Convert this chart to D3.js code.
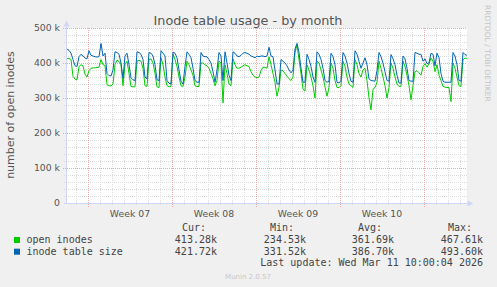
<!DOCTYPE html>
<html>
<head>
<meta charset="utf-8">
<script src="https://cdn.jsdelivr.net/npm/d3@7/dist/d3.min.js"></script>
<style>
  html, body { margin: 0; padding: 0; background: #f0f0f0; }
  svg { display: block; }
  text { font-family: "DejaVu Sans", sans-serif; fill: #555; }
  .mono { font-family: "DejaVu Sans Mono", monospace; font-size: 10px; fill: #444; }
</style>
</head>
<body>
<svg id="chart"></svg>
<script>
// values in thousands, one sample every 4 hours from Feb 6 06:00 to Mar 11 14:00
const openInodes = [
  413, 413, 410, 362, 354, 352, 390, 395, 392, 368, 360,
  378, 385, 386, 386, 387, 388,
  410, 395, 393, 338, 335, 335,
  340, 395, 408, 405, 395, 335,
  395, 405, 370, 333, 332, 332,
  405, 408, 405, 385, 335, 333,
  410, 412, 400, 370, 332, 330,
  415, 395, 360, 335, 332, 333,
  425, 410, 390, 360, 335, 333,
  360, 405, 395, 380, 365, 335,
  333, 333, 400, 400, 395, 392,
  385, 370, 355, 335, 350, 405,
  400, 286, 395, 370, 340, 335,
  412, 395, 385, 385, 388, 392,
  395, 392, 390, 375, 365, 360,
  358, 360, 378, 388, 388, 385,
  418, 395, 370, 345, 305, 330,
  380, 378, 370, 362, 355, 350,
  360, 430, 452, 410, 370, 325,
  320, 395, 380, 360, 335, 300,
  405, 400, 380, 360, 332, 305,
  330, 400, 385, 350, 330, 330,
  335, 405, 390, 360, 340, 335,
  330, 410, 395, 370, 360, 380,
  385, 350, 300, 266, 325, 330,
  345, 405, 385, 360, 335, 300,
  330, 400, 385, 360, 340, 333,
  333, 405, 390, 365, 335, 295,
  335, 375, 378, 372, 365, 390,
  398, 388, 398, 414, 405, 375,
  395, 365, 350, 333, 331, 330,
  330, 290, 400, 385, 360, 335,
  333, 410, 414, 413
];
const tableSize = [
  440, 436, 428, 410, 392, 390, 418, 425, 420, 414, 412,
  435, 422, 420, 418, 417, 418,
  456, 420, 428, 370, 364, 363,
  380, 432, 430, 425, 400, 356,
  420, 428, 395, 358, 352, 350,
  432, 430, 425, 410, 360, 355,
  430, 428, 420, 395, 352, 350,
  435, 428, 420, 350, 342, 340,
  431, 428, 415, 380, 348, 340,
  390, 432, 425, 415, 385, 350,
  345, 345, 430, 420, 418, 418,
  410, 400, 375, 345, 380, 430,
  420, 350, 432, 400, 365, 350,
  432, 428, 420, 418, 422, 428,
  430, 428, 425, 420, 418, 415,
  420, 418, 420, 420, 418, 420,
  445, 420, 418, 380, 340, 340,
  410, 405, 400, 392, 380, 372,
  380, 440, 456, 430, 385, 345,
  345, 425, 410, 390, 360, 345,
  432, 425, 410, 385, 350, 345,
  348, 428, 418, 395, 345, 343,
  350, 430, 420, 400, 370, 348,
  345, 435, 425, 405, 385, 400,
  415, 395, 355, 350, 349, 348,
  378, 430, 418, 400, 375, 350,
  348, 424, 412, 395, 365, 343,
  343, 420, 412, 385, 350, 348,
  348, 430, 428, 425, 425, 405,
  412, 398, 400, 428, 425, 392,
  428, 415, 370, 348, 345, 345,
  345, 345, 430, 420, 395, 350,
  348, 430, 424, 422
];
const weekLabels = ["Week 07", "Week 08", "Week 09", "Week 10"];
const yTickValues = [0, 100, 200, 300, 400, 500];
const seriesNames = ["open inodes", "inode table size"];
const seriesColors = ["#00cc00", "#0066b3"];
const statHeads = ["Cur:", "Min:", "Avg:", "Max:"];
const openStats = ["413.28k", "234.53k", "361.69k", "467.61k"];
const sizeStats = ["421.72k", "331.52k", "386.70k", "493.60k"];
const lastUpdate = "Last update: Wed Mar 11 10:00:04 2026";

const width = 497, height = 287;
const start = Date.UTC(2026, 1, 6, 6), end = Date.UTC(2026, 2, 11, 14);
const step = 4 * 3600 * 1000;

const svg = d3.select("#chart").attr("width", width).attr("height", height);
svg.append("rect").attr("width", width).attr("height", height).attr("fill", "#f0f0f0");

const x = d3.scaleUtc().domain([new Date(start), new Date(end)]).range([67, 467]);
const y = d3.scaleLinear().domain([0, 500]).range([203, 28]);

svg.append("rect").attr("x", 67).attr("y", 28).attr("width", 400).attr("height", 175).attr("fill", "#fff");

// grid
const days = d3.utcDay.range(x.domain()[0], x.domain()[1]);
const weeks = d3.utcSunday.range(x.domain()[0], x.domain()[1]);
const isWeek = d => d.getUTCDay() === 0;

const grid = svg.append("g").attr("stroke-dasharray", "1,1").attr("stroke-width", 1);
grid.selectAll(".vmin").data(days.filter(d => !isWeek(d))).enter().append("line")
  .attr("x1", d => Math.round(x(d)) + 0.5).attr("x2", d => Math.round(x(d)) + 0.5)
  .attr("y1", 28).attr("y2", 206).attr("stroke", "#dcdcdc");
grid.selectAll(".hmin").data(y.ticks(25).filter(v => v % 100 !== 0)).enter().append("line")
  .attr("x1", 64).attr("x2", 467)
  .attr("y1", d => Math.round(y(d)) + 0.5).attr("y2", d => Math.round(y(d)) + 0.5)
  .attr("stroke", "#dcdcdc");
grid.selectAll(".vmaj").data(weeks).enter().append("line")
  .attr("x1", d => Math.round(x(d)) + 0.5).attr("x2", d => Math.round(x(d)) + 0.5)
  .attr("y1", 28).attr("y2", 207).attr("stroke", "#eeaaaa");
grid.selectAll(".hmaj").data(yTickValues.filter(v => v > 0)).enter().append("line")
  .attr("x1", 63).attr("x2", 467)
  .attr("y1", d => Math.round(y(d)) + 0.5).attr("y2", d => Math.round(y(d)) + 0.5)
  .attr("stroke", "#eeaaaa");

// series
const line = d3.line()
  .x((d, i) => x(new Date(start + i * step)))
  .y(d => y(d));
[openInodes, tableSize].forEach((s, k) => {
  svg.append("path").datum(s)
    .attr("fill", "none")
    .attr("stroke", seriesColors[k])
    .attr("stroke-width", 1)
    .attr("d", line);
});

// axes
svg.append("line").attr("x1", 66.5).attr("x2", 66.5).attr("y1", 26).attr("y2", 204)
  .attr("stroke", "#cfd6f8");
svg.append("line").attr("x1", 64).attr("x2", 469).attr("y1", 203.5).attr("y2", 203.5)
  .attr("stroke", "#cfd6f8");
svg.append("path").attr("d", "M63.5,26.5L66.5,20.5L69.5,26.5Z").attr("fill", "#cfd6f8");
svg.append("path").attr("d", "M467.5,200.5L473.5,203.5L467.5,206.5Z").attr("fill", "#cfd6f8");

svg.append("g").selectAll("text").data(yTickValues).enter().append("text")
  .attr("x", 60).attr("y", d => y(d) + 3.4)
  .attr("text-anchor", "end").attr("font-size", "9.3px")
  .text(d => d === 0 ? "0" : d + " k");

svg.append("g").selectAll("text").data(weekLabels).enter().append("text")
  .attr("x", (d, i) => x(d3.utcHour.offset(weeks[i], 84)))
  .attr("y", 216.5).attr("text-anchor", "middle").attr("font-size", "9.3px")
  .text(d => d);

// titles
svg.append("text").attr("x", 248).attr("y", 25).attr("text-anchor", "middle")
  .attr("font-size", "12.8px").text("Inode table usage - by month");
svg.append("text").attr("transform", "translate(14,115) rotate(-90)")
  .attr("text-anchor", "middle").attr("font-size", "11px").text("number of open inodes");
svg.append("text").attr("transform", "translate(485,5) rotate(90)")
  .attr("font-size", "7.5px").style("fill", "#c4c4c4").text("RRDTOOL / TOBI OETIKER");

// legend
const leg = svg.append("g");
const headX = [182, 270, 358, 448];
const valX = [217, 306, 394, 483];
leg.selectAll(".head").data(statHeads).enter().append("text").attr("class", "mono")
  .attr("x", (d, i) => headX[i]).attr("y", 231).text(d => d);
[openStats, sizeStats].forEach((vals, k) => {
  const yy = 243 + k * 11.7;
  leg.append("rect").attr("x", 14).attr("y", yy - 6).attr("width", 6).attr("height", 6)
    .attr("fill", seriesColors[k]);
  leg.append("text").attr("class", "mono").attr("x", 26.5).attr("y", yy).text(seriesNames[k]);
  leg.selectAll(".v" + k).data(vals).enter().append("text").attr("class", "mono")
    .attr("x", (d, i) => valX[i]).attr("y", yy).attr("text-anchor", "end").text(d => d);
});
leg.append("text").attr("class", "mono").attr("x", 483).attr("y", 266.4)
  .attr("text-anchor", "end").text(lastUpdate);
svg.append("text").attr("x", 248).attr("y", 279).attr("text-anchor", "middle")
  .attr("font-size", "7px").style("fill", "#c8c8c8").text("Munin 2.0.57");
</script>
</body>
</html>
